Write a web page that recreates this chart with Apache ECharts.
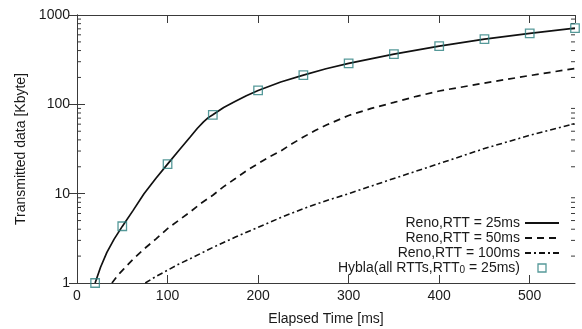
<!DOCTYPE html>
<html>
<head>
<meta charset="utf-8">
<script src="https://cdn.jsdelivr.net/npm/echarts@6/dist/echarts.min.js"></script>
<style>html,body{margin:0;padding:0;background:#fff}#c{width:582px;height:329px}</style>
</head>
<body>
<div id="c"></div>
<script>
// Reno, RTT = 25ms (solid)
const renoX25 = [20, 26, 33, 41, 50, 62, 74, 87, 100, 112, 125, 133, 140, 145, 150, 162, 175, 187, 200, 225, 250, 275, 300, 350, 400, 450, 500, 550];
const renoY25 = [1, 1.5, 2.2, 3.1, 4.3, 6.5, 10, 14.8, 21.4, 30, 43, 54, 64, 71, 76.3, 92, 108, 125, 143, 178, 212, 250, 287, 365, 449, 538, 622, 712];
// Reno, RTT = 50ms (dashed)
const renoX50 = [38.6, 45, 52, 62, 74, 87, 100, 112, 125, 137, 150, 162, 175, 187, 200, 212, 225, 237, 250, 263, 276, 300, 325, 350, 375, 400, 450, 500, 550];
const renoY50 = [1, 1.22, 1.45, 1.85, 2.4, 3.1, 4.06, 5.0, 6.25, 7.8, 9.6, 12, 14.8, 18, 21.7, 25.7, 30, 36, 43, 51, 59, 75, 90, 105, 123, 141, 173, 210, 252];
// Reno, RTT = 100ms (dash-dot)
const renoX100 = [75.4, 87, 100, 112, 125, 137, 150, 175, 200, 225, 250, 276, 300, 350, 400, 450, 500, 550];
const renoY100 = [1, 1.18, 1.39, 1.62, 1.87, 2.15, 2.5, 3.27, 4.2, 5.4, 6.8, 8.4, 10, 14.8, 21.7, 32, 45, 61];
// Hybla markers
const hyblaX = [20, 50, 100, 150, 200, 250, 300, 350, 400, 450, 500, 550];
const hyblaY = [1, 4.32, 21.4, 76.3, 143, 212, 287, 365, 449, 538, 622, 712];
// axis / tick values
const xTicks = [0, 100, 200, 300, 400, 500];
const yMinorTicks = [2,3,4,5,6,7,8,9,20,30,40,50,60,70,80,90,200,300,400,500,600,700,800,900];
const seriesNames = ['Reno,RTT = 25ms', 'Reno,RTT = 50ms', 'Reno,RTT = 100ms', 'Hybla(all RTTs,RTT0 = 25ms)'];

const FONT = "'Liberation Sans', Arial, sans-serif";
const AX = '#3a3a3a';
const TXT = '#1a1a1a';
const TEAL = '#2a8080';
const xMin = 0, xMax = 550;

const zip = (xs, ys) => xs.map((x, i) => [x, ys[i]]);

const chart = echarts.init(document.getElementById('c'), null, {renderer: 'canvas'});
const axisLineStyle = {show: true, lineStyle: {color: AX, width: 1}};
const hidden = {opacity: 0};
chart.setOption({
  animation: false,
  backgroundColor: '#fff',
  textStyle: {fontFamily: FONT},
  grid: {left: 77, right: 7, top: 15, bottom: 46, show: false, containLabel: false, outerBoundsMode: 'none'},
  xAxis: [{
    type: 'value', min: xMin, max: xMax, interval: 100, position: 'bottom',
    name: 'Elapsed Time [ms]', nameLocation: 'middle', nameGap: 29,
    nameTextStyle: {fontSize: 14, color: TXT, fontFamily: FONT},
    axisLine: axisLineStyle,
    axisTick: {show: true, inside: true, length: 8, lineStyle: {color: AX}},
    axisLabel: {fontSize: 14, color: TXT, margin: 6, fontFamily: FONT, showMaxLabel: false,
      formatter: v => xTicks.indexOf(v) >= 0 ? String(v) : ''},
    splitLine: {show: false}
  }, {
    type: 'value', min: xMin, max: xMax, interval: 100, position: 'top',
    axisLine: axisLineStyle,
    axisTick: {show: true, inside: true, length: 8, lineStyle: {color: AX}},
    axisLabel: {show: false}, splitLine: {show: false}
  }],
  yAxis: [{
    type: 'log', logBase: 10, min: 1, max: 1000, position: 'left',
    name: 'Transmitted data [Kbyte]', nameLocation: 'middle', nameGap: 40,
    nameTextStyle: {fontSize: 14, color: TXT, fontFamily: FONT},
    axisLine: axisLineStyle,
    axisTick: {show: true, inside: true, length: 8, lineStyle: {color: AX}},
    axisLabel: {fontSize: 14, color: TXT, margin: 7, fontFamily: FONT,
      formatter: v => String(Math.round(v))},
    splitLine: {show: false}
  }, {
    type: 'log', logBase: 10, min: 1, max: 1000, position: 'right',
    axisLine: axisLineStyle,
    axisTick: {show: true, inside: true, length: 8, lineStyle: {color: AX}},
    axisLabel: {show: false}, splitLine: {show: false}
  }],
  legend: {
    data: [
      {name: seriesNames[0], itemStyle: hidden},
      {name: seriesNames[1], itemStyle: hidden},
      {name: seriesNames[2], itemStyle: hidden},
      {name: seriesNames[3], icon: 'path://M0,0L10,0L10,10L0,10Z',
        itemStyle: {color: 'rgba(0,0,0,0)', borderColor: TEAL, borderWidth: 1.3}}
    ],
    orient: 'vertical', align: 'right',
    right: 22, top: 216, itemWidth: 34, itemHeight: 8, itemGap: 1, padding: 0,
    textStyle: {fontSize: 14, color: TXT, fontFamily: FONT,
      rich: {
        a: {fontSize: 14, color: TXT, fontFamily: FONT},
        s: {fontSize: 10, color: TXT, fontFamily: FONT, padding: [4, 0, 0, 0]}
      }},
    formatter: name => name === seriesNames[3]
      ? '{a|Hybla(all RTTs,RTT}{s|0}{a| = 25ms)}' : name
  },
  series: [
    {
      name: seriesNames[0], type: 'line', data: zip(renoX25, renoY25),
      showSymbol: false, symbol: 'none', smooth: false,
      lineStyle: {color: '#111', width: 1.7, type: 'solid'}, itemStyle: {color: '#111'}, z: 3
    },
    {
      name: seriesNames[1], type: 'line', data: zip(renoX50, renoY50),
      showSymbol: false, symbol: 'none', smooth: false,
      lineStyle: {color: '#111', width: 1.7, type: [7, 5]}, itemStyle: {color: '#111'}, z: 3
    },
    {
      name: seriesNames[2], type: 'line', data: zip(renoX100, renoY100),
      showSymbol: false, symbol: 'none', smooth: false,
      lineStyle: {color: '#111', width: 1.6, type: [6, 3, 2, 3]}, itemStyle: {color: '#111'}, z: 3
    },
    {
      name: seriesNames[3], type: 'scatter', data: zip(hyblaX, hyblaY),
      symbol: 'rect', symbolSize: 8.5,
      itemStyle: {color: 'rgba(0,0,0,0)', borderColor: TEAL, borderWidth: 1.3}, z: 4
    },
    {
      type: 'custom', silent: true, data: yMinorTicks.map(v => [xMin, v]), z: 2,
      renderItem: (params, api) => {
        const v = api.value(1);
        const p0 = api.coord([xMin, v]);
        const p1 = api.coord([xMax, v]);
        return {type: 'group', children: [
          {type: 'line', shape: {x1: p0[0], y1: p0[1], x2: p0[0] + 4, y2: p0[1]}, style: {stroke: AX, lineWidth: 1}},
          {type: 'line', shape: {x1: p1[0] - 4, y1: p1[1], x2: p1[0], y2: p1[1]}, style: {stroke: AX, lineWidth: 1}}
        ]};
      }
    }
  ]
});
</script>
</body>
</html>
